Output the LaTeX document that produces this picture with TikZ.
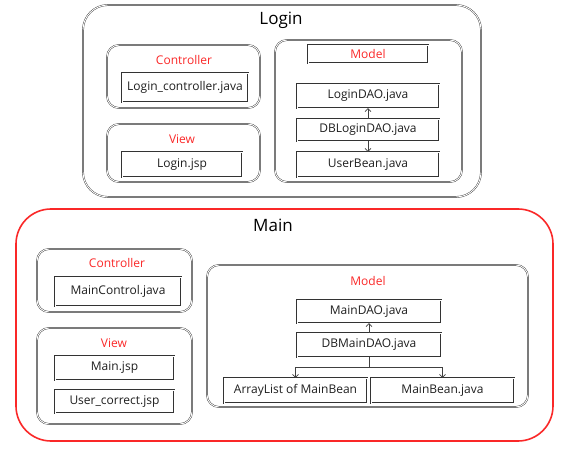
\documentclass[tikz,border=0pt]{standalone}
\usepackage{fontspec}
\setmainfont{Open Sans}
\usetikzlibrary{arrows.meta}
\definecolor{tred}{RGB}{250,40,40}
\definecolor{txt}{RGB}{30,30,30}
\begin{document}
\begin{tikzpicture}[x=1pt,y=-1pt,
  dbl/.style={draw=black!80, line width=0.4pt, double=white, double distance=0.9pt},
  grp/.style={dbl, rounded corners=12pt, inner sep=0pt},
  file/.style={dbl, inner sep=0pt, text=txt, font=\fontsize{12}{14}\selectfont},
  ttl/.style={text=tred, font=\fontsize{12}{14}\selectfont, inner sep=0pt},
  big/.style={text=black, font=\fontsize{17}{20}\selectfont, inner sep=0pt},
  arr/.style={draw=black!75, line width=0.6pt, -{Straight Barb[length=3pt,width=6pt]}}]
\useasboundingbox (0,0) rectangle (570,454);
% ---------- Login ----------
\node[dbl, rounded corners=25pt, minimum width=398pt, minimum height=192pt] (login) at (282,101) {};
\node[big] (logintitle) at (281,20) {Login};
\node[grp, minimum width=153pt, minimum height=63pt] (lctrl) at (183.5,76.5) {};
\node[ttl] (lctrlt) at (184,60) {Controller};
\node[file, minimum width=126pt, minimum height=29pt] (lcjava) at (185,87.5) {Login\_controller.java};
\node[grp, minimum width=153pt, minimum height=58pt] (lview) at (183.5,153) {};
\node[ttl] (lviewt) at (182,139) {View};
\node[file, minimum width=120pt, minimum height=25pt] (ljsp) at (182,164.5) {Login.jsp};
\node[grp, minimum width=187pt, minimum height=142pt] (lmodel) at (368.5,111) {};
\node[dbl, text=tred, inner sep=0pt, font=\fontsize{12}{14}\selectfont, minimum width=120pt, minimum height=18pt] (lmodelt) at (368,54) {Model};
\node[file, minimum width=142pt, minimum height=24pt] (ldao) at (368,96) {LoginDAO.java};
\node[file, minimum width=142pt, minimum height=22pt] (dbldao) at (368,130) {DBLoginDAO.java};
\node[file, minimum width=142pt, minimum height=25pt] (ubean) at (368,164.5) {UserBean.java};
\draw[arr] (dbldao.north) -- (ldao.south);
\draw[arr] (dbldao.south) -- (ubean.north);
% ---------- Main ----------
\node[draw=tred, line width=1.6pt, rounded corners=35pt, minimum width=537pt, minimum height=232pt, inner sep=0pt] (main) at (284.5,325) {};
\node[big] (maintitle) at (273,225) {Main};
\node[grp, minimum width=155pt, minimum height=63pt] (mctrl) at (114.5,280.5) {};
\node[ttl] (mctrlt) at (117,263) {Controller};
\node[file, minimum width=126pt, minimum height=29pt] (mcjava) at (118,291.5) {MainControl.java};
\node[grp, minimum width=155pt, minimum height=96pt] (mview) at (114.5,376) {};
\node[ttl] (mviewt) at (114,343) {View};
\node[file, minimum width=119pt, minimum height=24pt] (mjsp) at (114.5,368) {Main.jsp};
\node[file, minimum width=119pt, minimum height=23pt] (ujsp) at (114.5,401.5) {User\_correct.jsp};
\node[grp, minimum width=321pt, minimum height=142pt] (mmodel) at (367.5,336) {};
\node[ttl] (mmodelt) at (368,281) {Model};
\node[file, minimum width=144pt, minimum height=23pt] (mdao) at (369,311.5) {MainDAO.java};
\node[file, minimum width=144pt, minimum height=24pt] (dbmdao) at (369,345) {DBMainDAO.java};
\node[file, minimum width=143pt, minimum height=25pt] (alist) at (295.5,390.5) {ArrayList of MainBean};
\node[file, minimum width=143pt, minimum height=25pt] (mbean) at (442.5,390.5) {MainBean.java};
\coordinate (split) at (369,367);
\draw[arr] (dbmdao.north) -- (mdao.south);
\draw[draw=black!75, line width=0.6pt] (dbmdao.south) -- (split);
\draw[arr] (split) -| (alist.north);
\draw[arr] (split) -| (mbean.north);
\end{tikzpicture}
\end{document}
